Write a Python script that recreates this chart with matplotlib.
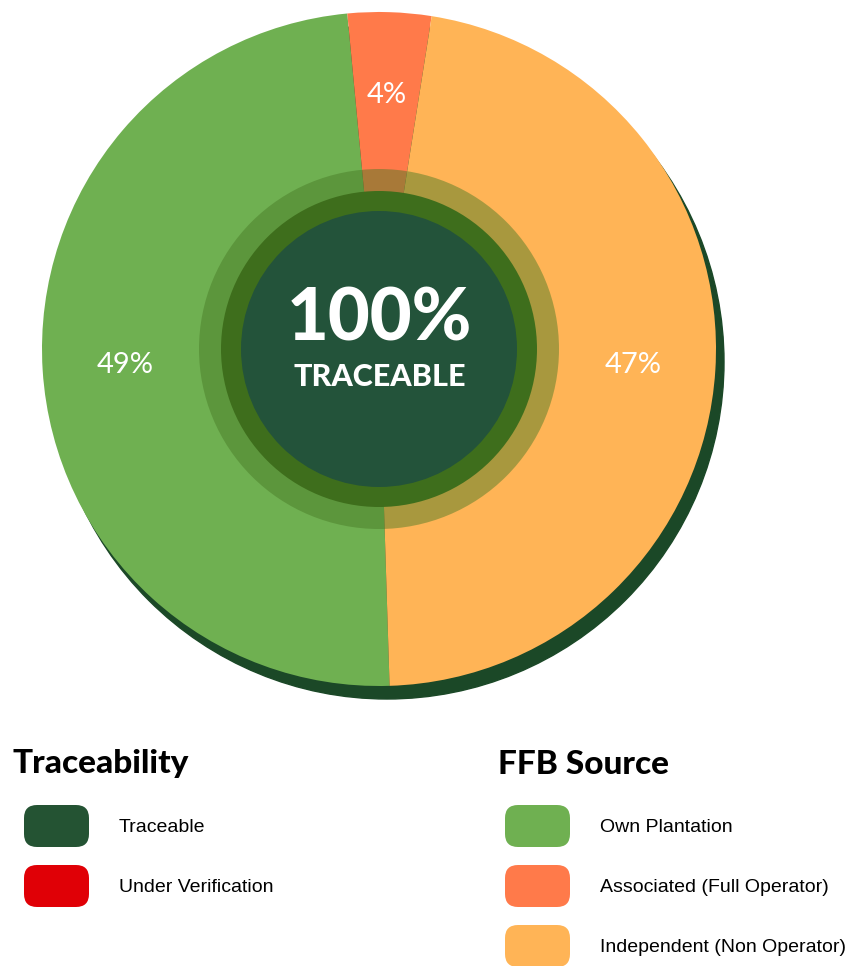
import matplotlib.pyplot as plt
from matplotlib.patches import Circle, FancyBboxPatch

# FFB source split (percent)
sources = ['Own Plantation', 'Associated (Full Operator)', 'Independent (Non Operator)']
shares = [49, 4, 47]
source_colors = ['#6fb051', '#ff7a4a', '#ffb456']

# traceability legend
trace_labels = ['Traceable', 'Under Verification']
trace_colors = ['#245333', '#e00006']

W, H = 846, 966
fig = plt.figure(figsize=(W / 100, H / 100), dpi=100)
ax = fig.add_axes([0, 0, 1, 1])

cx, cy, r = 379, H - 349, 337

# drop shadow behind the pie
ax.add_patch(Circle((cx + 8, cy - 13), r, color='#1b4827', zorder=0))

wedges, texts, autotexts = ax.pie(
    shares, colors=source_colors, center=(cx, cy), radius=r,
    startangle=271.8, counterclock=False,
    autopct=lambda p: f'{p:.0f}%', pctdistance=0.755,
    wedgeprops={'linewidth': 0},
    textprops={'color': 'white', 'fontsize': 21, 'family': 'Lato', 'fontweight': 'normal'})
for w in wedges:
    w.set_zorder(1)
for t in autotexts:
    t.set_zorder(6)

# center badge
ax.add_patch(Circle((cx, cy), 180, color='#477925', alpha=0.47, zorder=2, lw=0))
ax.add_patch(Circle((cx, cy), 158, color='#3e6e1c', zorder=3, lw=0))
ax.add_patch(Circle((cx, cy), 138, color='#23533a', zorder=4, lw=0))
ax.text(cx, H - 320, '100%', color='white', fontsize=52, family='Lato',
        fontweight='black', ha='center', va='center', zorder=5)
ax.text(cx + 1, H - 377, 'TRACEABLE', color='white', fontsize=22, family='Lato',
        fontweight='black', ha='center', va='center', zorder=5)

# legends
def legend_block(title_x, box_x, title, labels, colors, label_x):
    ax.text(title_x, H - 764, title, fontsize=24, family='Lato', fontweight='black',
            ha='left', va='center', color='black')
    for i, (lab, col) in enumerate(zip(labels, colors)):
        yc = H - (826 + 60 * i)
        ax.add_patch(FancyBboxPatch((box_x, yc - 21), 65, 42,
                                    boxstyle='round,pad=0,rounding_size=13',
                                    color=col, lw=0))
        ax.text(label_x, yc - 2, lab, fontsize=14, family='Liberation Sans',
                ha='left', va='center', color='black')

legend_block(12, 24, 'Traceability', trace_labels, trace_colors, 119)
legend_block(498, 505, 'FFB Source', sources, source_colors, 600)

ax.set_xlim(0, W)
ax.set_ylim(0, H)
ax.set_aspect('equal')
ax.axis('off')

fig.savefig('out.png', dpi=100)
